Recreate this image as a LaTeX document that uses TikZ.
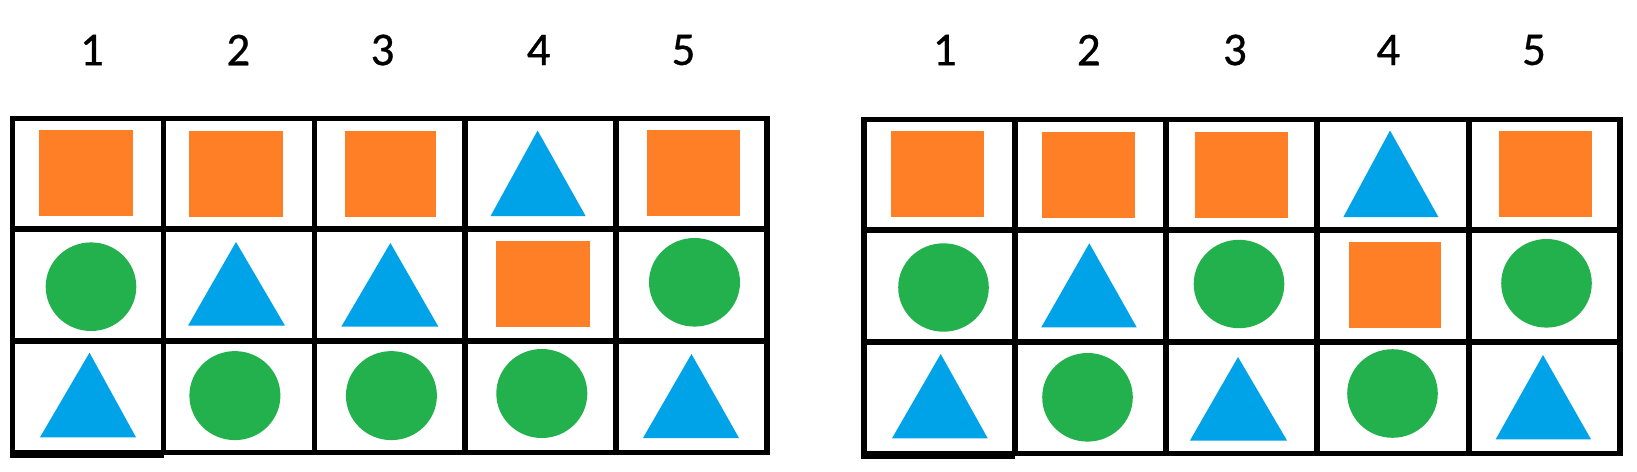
\documentclass[tikz,border=0pt]{standalone}
\usepackage{fontspec}
\setmainfont{Carlito}
\definecolor{orng}{RGB}{255,127,39}
\definecolor{blu}{RGB}{0,162,232}
\definecolor{grn}{RGB}{34,177,76}
\tikzset{
  gridline/.style={draw=black, line width=5.5pt},
  rowline/.style={draw=black, line width=6.3pt},
  sqshape/.style={fill=orng},
  trishape/.style={fill=blu},
  circshape/.style={fill=grn},
  lbl/.style={inner sep=0pt, font=\fontsize{47}{47}\selectfont\addfontfeature{FakeBold=0.6}}
}
\newcommand\mySq[4]{\fill[sqshape] (#1,#2) rectangle (#3,#4);}
\newcommand\myTri[5]{\fill[trishape] (#1,#2) -- (#4,#3) -- (#5,#3) -- cycle;}
\newcommand\myCirc[4]{\fill[circshape] (#1,#2) ellipse [x radius=#3pt, y radius=#4pt];}
\begin{document}
\begin{tikzpicture}[x=1pt,y=-1pt]
\useasboundingbox[fill=white] (0,0) rectangle (1637,471);

% ---------- labels ----------
\node[lbl] (a1) at (91.9,50) {1};
\node[lbl] (a2) at (238.3,50) {2};
\node[lbl] (a3) at (382.5,50) {3};
\node[lbl] (a4) at (538.6,50) {4};
\node[lbl] (a5) at (683.5,50) {5};
\node[lbl] (b1) at (944.7,50) {1};
\node[lbl] (b2) at (1088.7,50) {2};
\node[lbl] (b3) at (1234.9,50) {3};
\node[lbl] (b4) at (1388.3,50) {4};
\node[lbl] (b5) at (1534,50) {5};

% ---------- left grid shapes ----------
\mySq{38.6}{129.8}{132.6}{216}
\mySq{189}{130.5}{283}{217}
\mySq{344.5}{130.5}{436}{217}
\myTri{537.6}{130.5}{216}{490.6}{585.6}
\mySq{647}{130}{740}{216}

\myCirc{91}{286.7}{45.3}{44.3}
\myTri{236}{242}{325.7}{188}{285}
\myTri{390.4}{243}{326.7}{341.3}{438.4}
\mySq{495.8}{241}{589.8}{326.7}
\myCirc{694.5}{282.3}{45.5}{44.3}

\myTri{89.5}{352.7}{437.3}{40}{136}
\myCirc{234.9}{395.6}{45.5}{44.5}
\myCirc{391.4}{395.6}{45.5}{44.5}
\myCirc{541.8}{393.5}{45.5}{44.5}
\myTri{691.5}{354}{438}{643}{739}

% ---------- right grid shapes ----------
\mySq{891}{131}{984}{217}
\mySq{1042}{132}{1135}{218}
\mySq{1195}{131.5}{1288}{218}
\myTri{1390}{130.5}{217}{1343.4}{1438.4}
\mySq{1499}{130.5}{1592}{216.5}

\myCirc{943.5}{287.5}{45.3}{44.2}
\myTri{1089.3}{243.3}{327.3}{1041.3}{1136.7}
\myCirc{1239}{284}{45.3}{44.2}
\mySq{1348.6}{242}{1440.5}{327.8}
\myCirc{1546.5}{283.3}{45.3}{44.3}

\myTri{940.7}{354}{438.3}{892}{987.7}
\myCirc{1087.5}{397.3}{45.3}{44.3}
\myTri{1238}{357}{440.5}{1190}{1287}
\myCirc{1392.5}{393.5}{45.3}{44.3}
\myTri{1543}{355}{439.3}{1495.7}{1591}

% ---------- left grid lines ----------
\draw[gridline] (12.3,118.7) rectangle (767,452.5);
\draw[gridline] (12.3,452.5) -- (12.3,455) -- (164,455);
\foreach \x in {163.5,314.3,465,616}{\draw[gridline] (\x,118.7) -- (\x,452.5);}
\foreach \y in {229,340.7}{\draw[rowline] (12.3,\y) -- (767,\y);}

% ---------- right grid lines ----------
\draw[gridline] (864,119.3) rectangle (1620,453.5);
\draw[gridline] (864,453.5) -- (864,456.5) -- (1015,456.5);
\foreach \x in {1015,1166,1317,1469}{\draw[gridline] (\x,119.3) -- (\x,453.5);}
\foreach \y in {230,342}{\draw[rowline] (864,\y) -- (1620,\y);}
\end{tikzpicture}
\end{document}
